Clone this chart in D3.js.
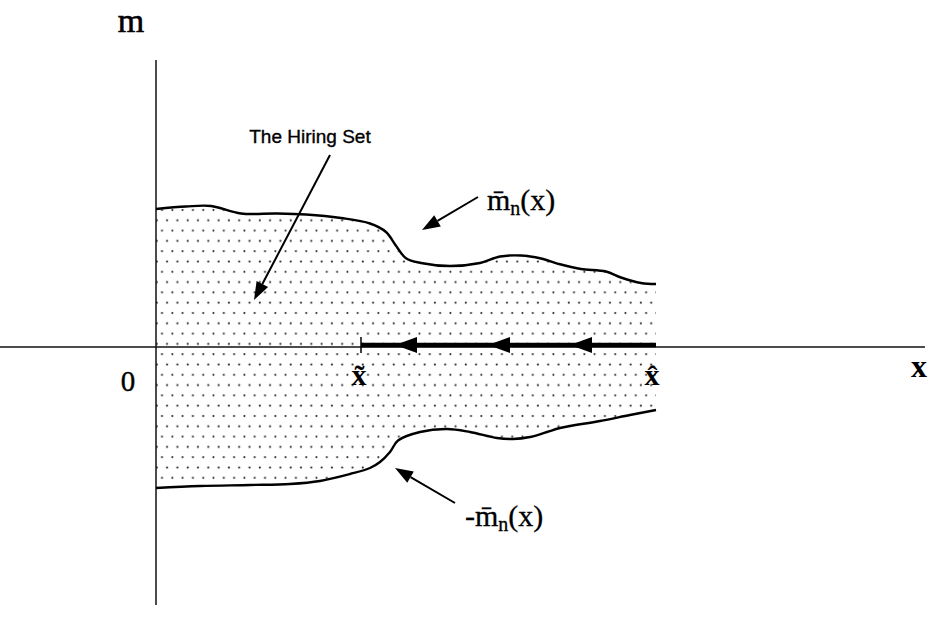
<!DOCTYPE html>
<html>
<head>
<meta charset="utf-8">
<script src="https://cdn.jsdelivr.net/npm/d3@7"></script>
<style>
  body { margin: 0; background: #fff; }
</style>
</head>
<body>
<svg id="chart"></svg>
<script>
// boundary of the hiring set, [x, m]
const upperBound = [
  [0, 55.2], [6, 56.2], [11, 56.4], [17, 53.4], [24, 53.4], [30, 53],
  [37, 51.6], [42.8, 49.4], [46, 46], [48, 40.5], [50, 35.5], [53, 33.6],
  [58.8, 32.4], [64.8, 33.6], [68.8, 36.2], [73, 36.6], [77, 35.4], [81, 33],
  [85, 31.2], [90, 30.2], [93, 27.8], [97, 25.6], [100, 25.2]
];
const lowerBound = [
  [0, -56.4], [8.8, -55.6], [18.8, -55.2], [26.8, -54.8], [32.8, -53.6], [38.8, -50.8],
  [42.8, -48.4], [44.8, -46], [46.8, -42], [48.4, -37.4], [52.8, -34], [58.2, -32.8],
  [62.8, -34], [68.2, -36.4], [71.4, -36.8], [74.8, -36], [78.2, -34], [80.8, -32.4],
  [88.8, -29.6], [94.8, -27.2], [100, -25.2]
];
const xTilde = 41;
const xHat = 100;
const flowTips = [47.8, 66.4, 82.8];
const xAxisExtent = [-31.2, 153.8];
const mAxisExtent = [114.8, -103.2];

// annotation arrows: [from, tip]
const hiringArrow = [[34.8, 76.8], [19.6, 18.8]];
const upperArrow = [[64.4, 60], [53.2, 46.8]];
const lowerArrow = [[59.8, -62.4], [47.8, -48.4]];

const W = 929, H = 636;
const svg = d3.select('#chart').attr('width', W).attr('height', H);

const x = d3.scaleLinear().domain([0, 100]).range([156, 656]);
const y = d3.scaleLinear().domain([-100, 100]).range([597, 97]);

// dotted fill
const pat = svg.append('defs').append('pattern')
  .attr('id', 'dots')
  .attr('patternUnits', 'userSpaceOnUse')
  .attr('x', 156).attr('y', 0)
  .attr('width', 10.3).attr('height', 20.6);
pat.append('circle').attr('cx', 6).attr('cy', 4).attr('r', 1.05).attr('fill', '#2a2a2a');
pat.append('circle').attr('cx', 11.15).attr('cy', 14.3).attr('r', 1.05).attr('fill', '#2a2a2a');
pat.append('circle').attr('cx', 0.85).attr('cy', 14.3).attr('r', 1.05).attr('fill', '#2a2a2a');

const line = d3.line().x(d => x(d[0])).y(d => y(d[1])).curve(d3.curveCatmullRom.alpha(0.5));

const region = line(upperBound) + 'L' + line(lowerBound.slice().reverse()).slice(1) + 'Z';
svg.append('path').attr('d', region).attr('fill', 'url(#dots)');

// axes
svg.append('line')
  .attr('x1', x(xAxisExtent[0])).attr('x2', x(xAxisExtent[1]))
  .attr('y1', y(0)).attr('y2', y(0))
  .attr('stroke', '#111').attr('stroke-width', 1.3);
svg.append('line')
  .attr('x1', x(0)).attr('x2', x(0))
  .attr('y1', y(mAxisExtent[0])).attr('y2', y(mAxisExtent[1]))
  .attr('stroke', '#111').attr('stroke-width', 1.5);

// boundaries
[upperBound, lowerBound].forEach(b => {
  svg.append('path').attr('d', line(b))
    .attr('fill', 'none').attr('stroke', '#000').attr('stroke-width', 2.4);
});

// flow along the axis from x-hat to x-tilde
const flowY = y(0) - 2;
svg.append('line')
  .attr('x1', x(xTilde)).attr('x2', x(xHat))
  .attr('y1', flowY).attr('y2', flowY)
  .attr('stroke', '#000').attr('stroke-width', 4.5);
svg.append('line')
  .attr('x1', x(xTilde)).attr('x2', x(xTilde))
  .attr('y1', flowY - 8).attr('y2', flowY + 8)
  .attr('stroke', '#000').attr('stroke-width', 1.5);
svg.selectAll('.flow-head')
  .data(flowTips)
  .enter().append('path')
  .attr('class', 'flow-head')
  .attr('d', d => {
    const tx = x(d);
    return `M${tx},${flowY} L${tx + 22},${flowY - 8} L${tx + 22},${flowY + 8} Z`;
  })
  .attr('fill', '#000');

// annotation arrows
function arrow(a) {
  const x0 = x(a[0][0]), y0 = y(a[0][1]), x1 = x(a[1][0]), y1 = y(a[1][1]);
  const ang = Math.atan2(y1 - y0, x1 - x0);
  const len = 18, hw = 6.5;
  const bx = x1 - len * Math.cos(ang), by = y1 - len * Math.sin(ang);
  svg.append('line')
    .attr('x1', x0).attr('y1', y0).attr('x2', bx).attr('y2', by)
    .attr('stroke', '#000').attr('stroke-width', 2);
  const px = -Math.sin(ang) * hw, py = Math.cos(ang) * hw;
  svg.append('path')
    .attr('d', `M${x1},${y1} L${bx + px},${by + py} L${bx - px},${by - py} Z`)
    .attr('fill', '#000');
}
arrow(hiringArrow);
arrow(upperArrow);
arrow(lowerArrow);

// labels
const serif = '"Liberation Serif", "Times New Roman", serif';
svg.append('text').attr('x', 131).attr('y', 32)
  .attr('text-anchor', 'middle').attr('font-family', serif).attr('font-size', 34)
  .attr('stroke', '#000').attr('stroke-width', 0.6)
  .text('m');
svg.append('text').attr('x', 128).attr('y', 391)
  .attr('text-anchor', 'middle').attr('font-family', serif).attr('font-size', 29)
  .attr('stroke', '#000').attr('stroke-width', 0.4)
  .text('0');
svg.append('text').attr('x', 919).attr('y', 377)
  .attr('text-anchor', 'middle').attr('font-family', serif).attr('font-size', 32)
  .attr('font-weight', 'bold').text('x');
svg.append('text').attr('x', x(xTilde) - 2).attr('y', 385)
  .attr('text-anchor', 'middle').attr('font-family', serif).attr('font-size', 30)
  .attr('font-weight', 'bold').text('x\u0303');
svg.append('text').attr('x', x(xHat) - 4).attr('y', 385)
  .attr('text-anchor', 'middle').attr('font-family', serif).attr('font-size', 30)
  .attr('font-weight', 'bold').text('x\u0302');

svg.append('text').attr('x', 310).attr('y', 143)
  .attr('text-anchor', 'middle').attr('font-family', '"Liberation Sans", Arial, sans-serif')
  .attr('font-size', 19).attr('stroke', '#000').attr('stroke-width', 0.35)
  .text('The Hiring Set');

function mbar(px, py, prefix) {
  const el = svg.append('text').attr('x', px).attr('y', py)
    .attr('font-family', serif).attr('font-size', 30)
    .attr('stroke', '#000').attr('stroke-width', 0.3);
  el.append('tspan').text(prefix + 'm\u0304');
  el.append('tspan').attr('dy', 5).attr('font-size', 20).text('n');
  el.append('tspan').attr('dy', -5).text('(x)');
}
mbar(487, 210, '');
mbar(465, 526, '-');
</script>
</body>
</html>
